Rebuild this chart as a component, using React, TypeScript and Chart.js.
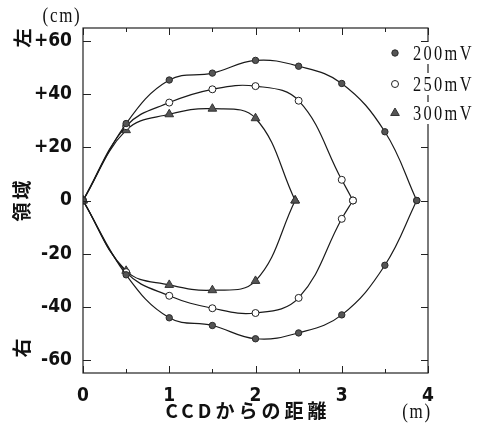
import { useEffect, useRef } from 'react';
import { Chart, registerables } from 'chart.js';
Chart.register(...registerables);

// distance from CCD (m) and region (cm)
const upperX200 = [0, 0.5, 1, 1.5, 2, 2.5, 3, 3.5, 3.87];
const upperY200 = [0, 29, 45.4, 48, 52.8, 50.6, 44.1, 25.9, 0];
const lowerX200 = [0, 0.5, 1, 1.5, 2, 2.5, 3, 3.5, 3.87];
const lowerY200 = [0, -28, -44.2, -47.1, -52.1, -49.9, -43.1, -24.4, 0];

const upperX250 = [0, 0.5, 1, 1.5, 2, 2.5, 3, 3.13];
const upperY250 = [0, 28, 36.9, 41.9, 43.1, 37.6, 7.8, 0];
const lowerX250 = [0, 0.5, 1, 1.5, 2, 2.5, 3, 3.13];
const lowerY250 = [0, -27, -35.9, -40.6, -42.4, -36.7, -6.9, 0];

const upperX300 = [0, 0.5, 1, 1.5, 2, 2.46];
const upperY300 = [0, 26.5, 32.5, 34.6, 31, 0];
const lowerX300 = [0, 0.5, 1, 1.5, 2, 2.46];
const lowerY300 = [0, -26.5, -31.8, -33.8, -30.3, 0];

const seriesLabels = ['200mV', '250mV', '300mV'];
const xTickValues = [0, 1, 2, 3, 4];
const xMinorTicks = [0.5, 1.5, 2.5, 3.5];
const yTickValues = [-60, -40, -20, 0, 20, 40, 60];
const xTitle = 'CCDからの距離';
const xUnit = '(m)';
const yUnit = '(cm)';
const yTop = '左';
const yMid = '領域';
const yBottom = '右';

const LINE = '#1a1a1a';
const FILL = '#555555';

const styles = [
  { pointStyle: 'circle', radius: 3.2, bg: FILL, border: '#2a2a2a', bw: 1 },
  { pointStyle: 'circle', radius: 3.5, bg: '#ffffff', border: '#222222', bw: 1 },
  { pointStyle: 'triangle', radius: 5, bg: FILL, border: '#333333', bw: 1 },
];

const zip = (xs: number[], ys: number[]) => xs.map((x, i) => ({ x, y: ys[i] }));

function ds(xs: number[], ys: number[], s: number) {
  const st = styles[s];
  return {
    label: seriesLabels[s],
    data: zip(xs, ys),
    showLine: true,
    tension: 0.4,
    borderColor: LINE,
    borderWidth: 1.2,
    pointStyle: st.pointStyle,
    pointRadius: st.radius,
    pointBackgroundColor: st.bg,
    pointBorderColor: st.border,
    pointBorderWidth: st.bw,
    fill: false,
  };
}

const framePlugin = {
  id: 'frame',
  afterDraw(chart: any) {
    const { ctx, chartArea: a, scales } = chart;
    const xs = scales.x;
    const ys = scales.y;
    ctx.save();
    ctx.strokeStyle = '#222';
    ctx.lineWidth = 1.2;
    ctx.strokeRect(a.left, a.top, a.right - a.left, a.bottom - a.top);
    ctx.lineWidth = 1;
    ctx.beginPath();
    const xt = (v: number, len: number) => {
      const px = Math.round(xs.getPixelForValue(v)) + 0.5;
      ctx.moveTo(px, a.bottom);
      ctx.lineTo(px, a.bottom - len);
      ctx.moveTo(px, a.top);
      ctx.lineTo(px, a.top + len);
    };
    xTickValues.forEach((v) => xt(v, 7));
    xMinorTicks.forEach((v) => xt(v, 4));
    yTickValues.forEach((v) => {
      const py = Math.round(ys.getPixelForValue(v)) + 0.5;
      ctx.moveTo(a.left, py);
      ctx.lineTo(a.left + 8, py);
      ctx.moveTo(a.right, py);
      ctx.lineTo(a.right - 7, py);
    });
    ctx.stroke();

    // legend
    const rows = [53, 84, 113];
    const mx = 395;
    rows.forEach((ry, i) => {
      ctx.fillStyle = '#fff';
      ctx.fillRect(408, ry - 11, 66, 22);
      const st = styles[i];
      ctx.fillStyle = st.bg;
      ctx.strokeStyle = st.border;
      ctx.lineWidth = 1;
      ctx.beginPath();
      if (st.pointStyle === 'circle') {
        ctx.arc(mx, ry, st.radius, 0, Math.PI * 2);
      } else {
        const r = st.radius;
        ctx.moveTo(mx, ry - r);
        ctx.lineTo(mx + r * 0.866, ry + r * 0.5);
        ctx.lineTo(mx - r * 0.866, ry + r * 0.5);
        ctx.closePath();
      }
      ctx.fill();
      ctx.stroke();
      ctx.save();
      ctx.translate(413, ry);
      ctx.scale(0.78, 1);
      ctx.fillStyle = '#111';
      ctx.font = '21px "Liberation Serif", serif';
      (ctx as any).letterSpacing = '3px';
      ctx.textAlign = 'left';
      ctx.textBaseline = 'middle';
      ctx.fillText(seriesLabels[i], 0, 1);
      ctx.restore();
    });

    // axis titles
    ctx.fillStyle = '#111';
    ctx.textBaseline = 'middle';
    ctx.textAlign = 'center';
    ctx.font = 'bold 19px "Noto Sans CJK JP", sans-serif';
    (ctx as any).letterSpacing = '4px';
    ctx.fillText(xTitle, 246 + 2, 411);

    ctx.save();
    ctx.translate(417, 413);
    ctx.scale(0.85, 1);
    ctx.font = '20px "Liberation Serif", serif';
    (ctx as any).letterSpacing = '2px';
    ctx.fillText(xUnit, 0, 0);
    ctx.restore();

    ctx.save();
    ctx.translate(62, 17);
    ctx.scale(0.85, 1);
    ctx.font = '20px "Liberation Serif", serif';
    (ctx as any).letterSpacing = '2px';
    ctx.fillText(yUnit, 0, 0);
    ctx.restore();

    const vtext = (t: string, cx: number, cy: number, spacing: string) => {
      ctx.save();
      ctx.translate(cx, cy);
      ctx.rotate(-Math.PI / 2);
      ctx.font = 'bold 19px "Noto Sans CJK JP", sans-serif';
      (ctx as any).letterSpacing = spacing;
      ctx.textAlign = 'center';
      ctx.textBaseline = 'middle';
      ctx.fillText(t, 0, 0);
      ctx.restore();
    };
    vtext(yTop, 23, 38, '0px');
    vtext(yMid, 22, 198 + 1.5, '3px');
    vtext(yBottom, 22, 348, '0px');
    ctx.restore();
  },
};

export default function App() {
  const ref = useRef<HTMLCanvasElement | null>(null);
  useEffect(() => {
    document.body.style.margin = '0';
    const canvas = ref.current;
    if (!canvas) return;
    const tickFont = { family: '"Liberation Sans Narrow", "DejaVu Sans Condensed", sans-serif', size: 19, weight: 'bold' as const };
    const chart = new Chart(canvas, {
      type: 'scatter',
      data: {
        datasets: [
          ds(upperX200, upperY200, 0),
          ds(lowerX200, lowerY200, 0),
          ds(upperX250, upperY250, 1),
          ds(lowerX250, lowerY250, 1),
          ds(upperX300, upperY300, 2),
          ds(lowerX300, lowerY300, 2),
        ] as any,
      },
      options: {
        animation: false,
        responsive: true,
        maintainAspectRatio: false,
        layout: { padding: { top: 28, right: 52, left: 0, bottom: 0 } },
        plugins: { legend: { display: false }, tooltip: { enabled: false } },
        scales: {
          x: {
            type: 'linear',
            min: 0,
            max: 4,
            grid: { display: false, drawTicks: false },
            border: { display: false },
            afterBuildTicks: (s: any) => {
              s.ticks = xTickValues.map((v) => ({ value: v }));
            },
            afterFit: (s: any) => {
              s.height = 50;
            },
            ticks: { color: '#111', font: tickFont, padding: 12, maxRotation: 0, autoSkip: false },
          },
          y: {
            type: 'linear',
            min: -65,
            max: 65,
            grid: { display: false, drawTicks: false },
            border: { display: false },
            afterBuildTicks: (s: any) => {
              s.ticks = yTickValues.map((v) => ({ value: v }));
            },
            afterFit: (s: any) => {
              s.width = 83;
            },
            ticks: {
              color: '#111',
              font: tickFont,
              padding: 11,
              callback: (v: any) => (Number(v) > 0 ? '+' + v : String(v)),
            },
          },
        },
      },
      plugins: [framePlugin],
    });
    return () => chart.destroy();
  }, []);
  return (
    <div style={{ position: 'relative', width: 480, height: 423 }}>
      <canvas ref={ref} />
    </div>
  );
}
